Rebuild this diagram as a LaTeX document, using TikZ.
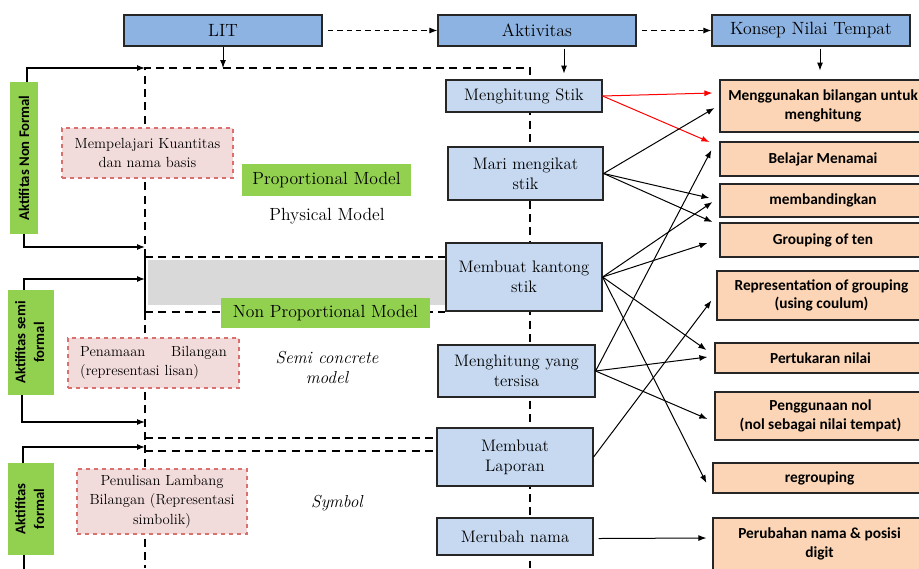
\documentclass[tikz,border=0pt]{standalone}
\usepackage{graphicx}
\usepackage{fontspec}
\newfontfamily\calibri{Carlito}
\usetikzlibrary{arrows.meta,calc,backgrounds}
\definecolor{topblue}{HTML}{8DB3E2}
\definecolor{actblue}{HTML}{C6D9F1}
\definecolor{peach}{HTML}{FBD5B5}
\definecolor{leaf}{HTML}{92D050}
\definecolor{pinkbg}{HTML}{F2DCDB}
\definecolor{pinkln}{HTML}{DA6F6D}
\definecolor{greyband}{HTML}{D9D9D9}
\definecolor{edge}{HTML}{262626}
\newcommand*{\pxu}{0.75pt}

\begin{document}
\begin{tikzpicture}[x=0.75pt, y=-0.75pt,
    dims/.style 2 args={minimum width=#1*\pxu, minimum height=#2*\pxu},
    headbox/.style={draw=edge, line width=0.9pt, fill=topblue, inner sep=0pt, dims={198}{31}, font=\fontsize{13.3}{16}\selectfont},
    actbox/.style={draw=edge, line width=0.9pt, fill=actblue, inner sep=0pt, align=center, font=\fontsize{12.5}{15}\selectfont},
    ideabox/.style={draw=edge, line width=0.9pt, fill=peach, inner sep=0pt, align=center, font=\calibri\bfseries\fontsize{11.5}{14}\selectfont},
    leafbox/.style={fill=leaf, inner sep=0pt, align=center, font=\calibri\bfseries\fontsize{11}{14}\selectfont},
    modelbox/.style={fill=leaf, inner sep=0pt, font=\fontsize{13.2}{16}\selectfont},
    notebox/.style={draw=pinkln, dashed, line width=0.9pt, fill=pinkbg, inner sep=0pt, align=center, font=\fontsize{11}{14.5}\selectfont},
    caption/.style={align=center, font=\fontsize{13.2}{15}\selectfont},
    frame/.style={line width=0.9pt, dash pattern=on 6pt off 4pt},
    link/.style={-{Latex[length=6pt,width=4.5pt]}, line width=0.75pt},
    hot/.style={link, draw=red}]
    \useasboundingbox (0,0) rectangle (919,568);

    \node[headbox] (lit) at (223,30.5) {LIT};
    \node[headbox] (aktivitas) at (537,30.5) {Aktivitas};
    \node[headbox] (konsep) at (811,30.5) {Konsep Nilai Tempat};

    \node[actbox, dims={156}{32}] (stik) at (524,96) {Menghitung Stik};
    \node[actbox, dims={155}{53}] (mari) at (525.5,173.5) {Mari mengikat\\stik};
    \node[actbox, dims={156}{68}] (kantong) at (524,277) {Membuat kantong\\stik};
    \node[actbox, dims={157}{52}] (tersisa) at (516.5,371) {Menghitung yang\\tersisa};
    \node[actbox, dims={156}{58}] (laporan) at (515,457) {Membuat\\Laporan};
    \node[actbox, dims={156}{37}] (merubah) at (515,536.5) {Merubah nama};

    \node[ideabox, dims={206}{52}] (guna) at (823,106) {Menggunakan bilangan untuk\\menghitung};
    \node[ideabox, dims={206}{34}] (namai) at (823,159) {Belajar Menamai};
    \node[ideabox, dims={206}{33}] (banding) at (823,200.5) {membandingkan};
    \node[ideabox, dims={206}{34}] (grup) at (823,240) {Grouping of ten};
    \node[ideabox, dims={209}{49}] (repr) at (821.5,295.5) {Representation of grouping\\(using coulum)};
    \node[ideabox, dims={211}{30}] (tukar) at (820.5,358) {Pertukaran nilai};
    \node[ideabox, dims={211}{48}] (nol) at (820.5,416) {Penggunaan nol\\(nol sebagai nilai tempat)};
    \node[ideabox, dims={213}{30}] (regrup) at (819.5,478) {regrouping};
    \node[ideabox, dims={213}{52}] (posisi) at (819.5,544) {Perubahan nama \& posisi\\digit};

    \node[leafbox, dims={28}{152}] (gnon) at (24,158) {\rotatebox{90}{Aktifitas Non Formal}};
    \node[leafbox, dims={46}{105}] (gsemi) at (31,342.5) {\rotatebox{90}{\begin{tabular}{@{}c@{}}Aktifitas semi\\formal\end{tabular}}};
    \node[leafbox, dims={46}{92}] (gform) at (31,509) {\rotatebox{90}{\begin{tabular}{@{}c@{}}Aktifitas\\formal\end{tabular}}};

    \node[notebox, dims={171}{50}] (kuantitas) at (147.5,153) {Mempelajari Kuantitas\\dan nama basis};
    \node[notebox, dims={171}{50}, text width=110pt, align=left] (lisan) at (153.5,363) {Penamaan\hfill Bilangan\\(representasi lisan)};
    \node[notebox, dims={170}{65}] (simbolik) at (162,501.5) {Penulisan Lambang\\Bilangan (Representasi\\simbolik)};

    \node[modelbox, dims={169}{32}] (prop) at (326.5,180) {Proportional Model};
    \node[modelbox, dims={209}{30}] (nonprop) at (325.5,313) {Non Proportional Model};
    \node[caption] (fisik) at (327,216) {Physical Model};
    \node[caption, font=\itshape\fontsize{13}{15}\selectfont] (semikonkret) at (327,367) {Semi concrete\\model};
    \node[caption, font=\itshape\fontsize{13}{15}\selectfont] (simbol) at (337,503) {Symbol};

    \coordinate (ftl) at (145,68);
    \coordinate (ftr) at (530,68);
    \coordinate (fbl) at (145,568);
    \coordinate (fbr) at (530,568);
    \coordinate (npt) at (145,257);
    \coordinate (npb) at (145,312);
    \coordinate (lpt) at (145,438);
    \coordinate (lpb) at (145,451);
    \coordinate (in1) at (145,247);
    \coordinate (in2) at (145,279);
    \coordinate (in3) at (145,422);
    \coordinate (in4) at (145,447);

    \begin{scope}[on background layer]
        \fill[greyband] (148,260) rectangle (446,305);
        \draw[frame] (npt) -- (ftl) -- (ftr) -- (fbr);
        \draw[line width=0.9pt] (npt) -- (npb);
        \draw[frame] (npb) -- (fbl);
        \draw[frame] (npt) -- (npt -| kantong.west);
        \draw[frame] (npb) -- (npb -| kantong.west);
        \draw[frame] (lpt) -- (lpt -| laporan.west);
        \draw[frame] (lpb) -- (lpb -| laporan.west);
    \end{scope}

    \draw[link, dash pattern=on 4pt off 3pt, shorten <=4pt] (lit) -- (aktivitas);
    \draw[link, dash pattern=on 4pt off 3pt, shorten <=4pt] (aktivitas) -- (konsep);
    \draw[link] (lit) -- (lit |- ftl);
    \draw[link] ($(aktivitas.south)+(27,2)$) -- ($(aktivitas.south)+(27,27)$);
    \draw[link] ($(konsep.south)+(9,2)$) -- ($(konsep.south)+(9,24)$);

    \draw[link, line width=0.9pt] ($(gnon.north)+(3,0)$) |- (ftl);
    \draw[link, line width=0.9pt] (gnon.south) |- (in1);
    \draw[link, line width=0.9pt] ($(gsemi.north)+(-7,0)$) |- (in2);
    \draw[link, line width=0.9pt] ($(gsemi.south)+(-9,0)$) |- (in3);
    \draw[link, line width=0.9pt] ($(gform.north)+(-8,0)$) |- (in4);
    \draw[line width=0.9pt] ($(gform.south)+(-7,0)$) -- ++(0,15);

    \draw[hot] (stik.east) -- ($(guna.west)+(-7,-13)$);
    \draw[hot] (stik.east) -- ($(namai.west)+(-10,-17)$);
    \draw[link] (mari.east) -- ($(guna.west)+(-5,2)$);
    \draw[link] (mari.east) -- ($(banding.west)+(-10,-2.5)$);
    \draw[link] (mari.east) -- ($(grup.west)+(-7,-18)$);
    \draw[link] (kantong.east) -- ($(banding.west)+(-7,1.5)$);
    \draw[link] (kantong.east) -- ($(grup.west)+(-12,3)$);
    \draw[link] (kantong.east) -- ($(tukar.west)+(-8,-8)$);
    \draw[link] (kantong.east) -- ($(regrup.west)+(-6,5)$);
    \draw[link] (tersisa.east) -- ($(namai.west)+(-8,-9)$);
    \draw[link] (tersisa.east) -- ($(tukar.west)+(-7,-1)$);
    \draw[link] (tersisa.east) -- ($(nol.west)+(-7,3)$);
    \draw[link] (laporan.east) -- ($(repr.west)+(-5,5)$);
    \draw[link] ($(merubah.east)+(5,2)$) -- ($(posisi.west)+(-6,-6)$);
\end{tikzpicture}
\end{document}
